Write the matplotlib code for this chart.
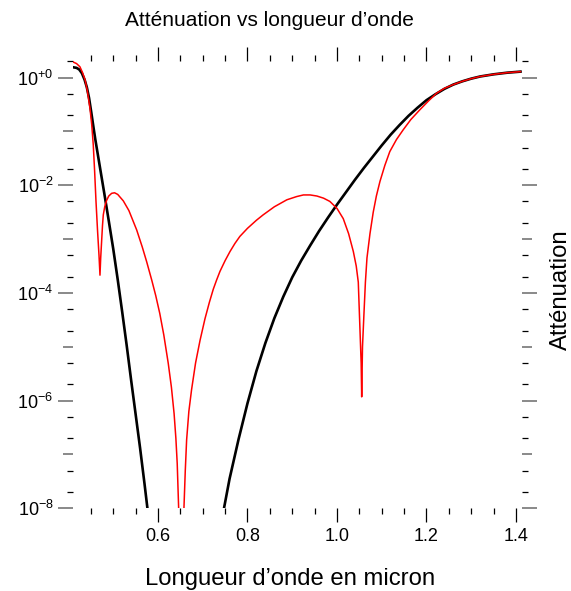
import numpy as np
import matplotlib
matplotlib.use("Agg")
import matplotlib.pyplot as plt
from matplotlib.ticker import FixedLocator, FixedFormatter, MultipleLocator

plt.rcParams["font.family"] = ["Liberation Sans", "DejaVu Sans"]
plt.rcParams["mathtext.fontset"] = "custom"
plt.rcParams["mathtext.rm"] = "Liberation Sans"
plt.rcParams["mathtext.it"] = "Liberation Sans:italic"

# black curve (wavelength in micron, log10 of attenuation)
black_lam_1 = [0.411, 0.418, 0.424, 0.430, 0.436, 0.441, 0.446, 0.451, 0.456,
               0.460, 0.470, 0.480, 0.490, 0.500, 0.510, 0.520, 0.530, 0.540,
               0.550, 0.560, 0.570, 0.580]
black_log_1 = [0.19, 0.18, 0.15, 0.08, -0.04, -0.18, -0.38, -0.65, -0.93,
               -1.15, -1.65, -2.15, -2.66, -3.18, -3.75, -4.35, -4.97, -5.62,
               -6.25, -6.88, -7.55, -8.25]
black_lam_2 = [0.740, 0.7475, 0.760, 0.780, 0.800, 0.820, 0.840, 0.860, 0.880,
               0.900, 0.920, 0.940, 0.960, 0.980, 1.000, 1.020, 1.040, 1.060,
               1.080, 1.100, 1.120, 1.140, 1.160, 1.180, 1.200, 1.220, 1.240,
               1.260, 1.280, 1.300, 1.320, 1.350, 1.380, 1.410]
black_log_2 = [-8.35, -8.00, -7.45, -6.72, -6.05, -5.45, -4.93, -4.47, -4.07,
               -3.71, -3.40, -3.12, -2.85, -2.60, -2.36, -2.13, -1.90, -1.68,
               -1.47, -1.26, -1.06, -0.88, -0.71, -0.56, -0.42, -0.31, -0.21,
               -0.13, -0.07, -0.02, 0.02, 0.06, 0.09, 0.11]

# red curve
red_lam = [0.411, 0.418, 0.4256, 0.431, 0.437, 0.442, 0.448, 0.452, 0.4554,
           0.4585, 0.4615, 0.465, 0.4682, 0.4704, 0.472, 0.474, 0.476, 0.4778,
           0.481, 0.4853, 0.490, 0.4965, 0.503, 0.510, 0.5225, 0.535, 0.5524,
           0.565, 0.5747, 0.586, 0.595, 0.604, 0.613, 0.623, 0.630, 0.636,
           0.640, 0.643, 0.6462, 0.651, 0.658, 0.661, 0.664, 0.669, 0.675,
           0.684, 0.694, 0.705, 0.715, 0.7236, 0.731, 0.7385, 0.750, 0.761,
           0.772, 0.783, 0.800, 0.820, 0.835, 0.860, 0.888, 0.910, 0.925,
           0.940, 0.955, 0.970, 0.984, 1.000, 1.014, 1.026, 1.0365, 1.043,
           1.0476, 1.0514, 1.054, 1.0552, 1.057, 1.0603, 1.0635, 1.067,
           1.0737, 1.081, 1.088, 1.096, 1.107, 1.118, 1.133, 1.148, 1.165,
           1.185, 1.205, 1.2227, 1.240, 1.260, 1.280, 1.300, 1.320, 1.350,
           1.380, 1.410]
red_log = [0.286, 0.26, 0.20, 0.10, -0.04, -0.24, -0.57, -0.88, -1.25,
           -1.75, -2.30, -2.85, -3.30, -3.67, -3.35, -3.05, -2.75, -2.55,
           -2.40, -2.28, -2.20, -2.15, -2.14, -2.17, -2.29, -2.47, -2.83,
           -3.15, -3.42, -3.76, -4.05, -4.38, -4.78, -5.31, -5.75, -6.24,
           -6.70, -7.17, -8.00, -9.50, -8.00, -7.30, -6.73, -6.20, -5.80,
           -5.30, -4.88, -4.48, -4.17, -3.93, -3.76, -3.60, -3.40, -3.23,
           -3.08, -2.95, -2.80, -2.65, -2.55, -2.40, -2.27, -2.21, -2.18,
           -2.18, -2.20, -2.24, -2.30, -2.43, -2.62, -2.90, -3.23, -3.50,
           -3.80, -4.69, -5.30, -5.93, -5.00, -4.38, -3.80, -3.35,
           -2.90, -2.50, -2.20, -1.93, -1.63, -1.375, -1.15, -0.97, -0.78,
           -0.60, -0.43, -0.29, -0.20, -0.13, -0.07, -0.02, 0.02, 0.06,
           0.09, 0.11]

x_major = [0.6, 0.8, 1.0, 1.2, 1.4]
x_labels = ["0.6", "0.8", "1.0", "1.2", "1.4"]
y_exps = [-8, -7, -6, -5, -4, -3, -2, -1, 0]

fig = plt.figure(figsize=(5.71, 5.91), dpi=100)
ax = fig.add_axes([0.1287, 0.1399, 0.7850, 0.7563])
ax.set_yscale("log")

ax.plot(black_lam_1, 10.0 ** np.array(black_log_1), color="black", lw=1.9)
ax.plot(black_lam_2, 10.0 ** np.array(black_log_2), color="black", lw=1.9)
ax.plot(red_lam, 10.0 ** np.array(red_log), color="red", lw=1.1)

ax.set_xlim(0.4112, 1.4128)
ax.set_ylim(1e-8, 2.0)
for s in ax.spines.values():
    s.set_visible(False)

# x axis ticks
ax.xaxis.set_major_locator(FixedLocator(x_major))
ax.xaxis.set_major_formatter(FixedFormatter(x_labels))
ax.xaxis.set_minor_locator(MultipleLocator(0.05))
ax.tick_params(axis="x", which="both", direction="out", bottom=True, top=True,
               labelbottom=True, labeltop=False, color="black")
ax.tick_params(axis="x", which="major", length=10.3, width=0.9, pad=3.6,
               labelsize=13)
ax.tick_params(axis="x", which="minor", length=4.3, width=0.9)

# y axis ticks: decades, labels on even ones
y_major = [10.0 ** e for e in y_exps]
y_labels = []
for e in y_exps:
    if e % 2 == 0:
        y_labels.append(r"$10^{+0}$" if e == 0 else r"$10^{-%d}$" % -e)
    else:
        y_labels.append("")
y_minor = [m * 10.0 ** e for e in y_exps for m in (2, 5)]
y_minor = [v for v in y_minor if v <= 2.0]
ax.yaxis.set_major_locator(FixedLocator(y_major))
ax.yaxis.set_major_formatter(FixedFormatter(y_labels))
ax.yaxis.set_minor_locator(FixedLocator(y_minor))
ax.yaxis.set_minor_formatter(FixedFormatter([""] * len(y_minor)))
ax.tick_params(axis="y", which="both", direction="out", left=True, right=True,
               labelleft=True, labelright=False)
ax.tick_params(axis="y", which="major", length=10.8, width=1.3, color="0.5",
               pad=3.6, labelsize=13)
ax.tick_params(axis="y", which="minor", length=4.3, width=0.9, color="black")

# shorter ticks on the odd decades
for e, tick in zip(y_exps, ax.yaxis.get_major_ticks(len(y_exps))):
    if e % 2 != 0:
        tick.tick1line.set_markersize(7.2)
        tick.tick2line.set_markersize(7.2)

fig.text(269 / 571, 1 - 20 / 591, "Atténuation vs longueur d’onde",
         ha="center", va="center", fontsize=15)
fig.text(290 / 571, 1 - 579 / 591, "Longueur d’onde en micron",
         ha="center", va="center", fontsize=17.2)
fig.text(561 / 571, 1 - 290 / 591, "Atténuation", rotation=90,
         ha="center", va="center", fontsize=17.2)

fig.savefig("out.png", dpi=100)
